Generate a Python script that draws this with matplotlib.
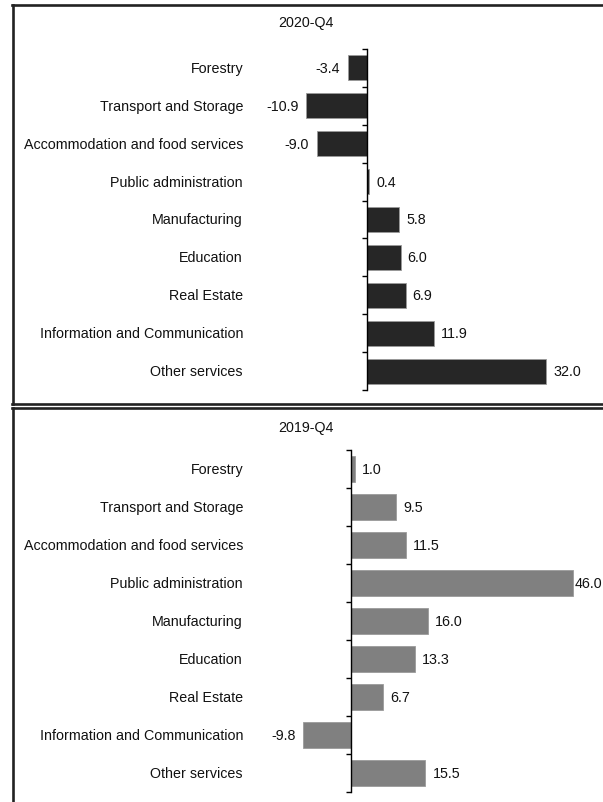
import matplotlib
matplotlib.use("Agg")
import matplotlib.pyplot as plt
from matplotlib.lines import Line2D
import matplotlib.transforms as mtransforms

plt.rcParams['font.family'] = ['Liberation Sans', 'DejaVu Sans']

categories = ["Forestry", "Transport and Storage", "Accommodation and food services",
              "Public administration", "Manufacturing", "Education", "Real Estate",
              "Information and Communication", "Other services"]
values_2020 = [-3.4, -10.9, -9.0, 0.4, 5.8, 6.0, 6.9, 11.9, 32.0]
values_2019 = [1.0, 9.5, 11.5, 46.0, 16.0, 13.3, 6.7, -9.8, 15.5]

W, H = 603, 803
fig = plt.figure(figsize=(W / 100, H / 100), dpi=100)


def px_axes(left, top, right, bottom):
    return fig.add_axes([left / W, (H - bottom) / H, (right - left) / W, (bottom - top) / H])


def panel(ax, vals, color, xlim):
    y = list(range(len(categories)))
    ax.barh(y, vals, height=0.66, color=color, edgecolor="#9a9a9a", linewidth=0.6, zorder=2)
    ax.set_ylim(len(categories) - 0.5, -0.5)
    ax.set_xlim(*xlim)
    for s in ["top", "right", "bottom"]:
        ax.spines[s].set_visible(False)
    ax.spines["left"].set_position(("data", 0))
    ax.spines["left"].set_linewidth(1.0)
    ax.spines["left"].set_zorder(3)
    ax.set_xticks([])
    ax.set_yticks([i - 0.5 for i in range(len(categories) + 1)])
    ax.set_yticklabels([])
    ax.tick_params(axis="y", direction="out", length=3.5, width=1.0)
    trans = mtransforms.blended_transform_factory(ax.transAxes, ax.transData)
    for i, c in enumerate(categories):
        ax.text(-5 / 352, i, c, transform=trans, ha="right", va="center", fontsize=10.3, color="#111")
    for i, v in enumerate(vals):
        if v >= 0:
            # label squeezed against the bar when it would run off the page
            pad = 1 if v > 0.85 * xlim[1] else 5
            ax.annotate("%.1f" % v, (v, i), xytext=(pad, 0), textcoords="offset points",
                        ha="left", va="center", fontsize=10.3, color="#111")
        else:
            ax.annotate("%.1f" % v, (v, i), xytext=(-5.5, 0), textcoords="offset points",
                        ha="right", va="center", fontsize=10.3, color="#111")


ax1 = px_axes(248, 50, 600, 391)
panel(ax1, values_2020, "#262626", (-21.25, 41.6))
ax2 = px_axes(248, 451, 600, 793)
panel(ax2, values_2019, "#808080", (-21.2, 51.6))

fig.text(306 / W, 1 - 23 / H, "2020-Q4", ha="center", va="center", fontsize=10.3, color="#111")
fig.text(306 / W, 1 - 428 / H, "2019-Q4", ha="center", va="center", fontsize=10.3, color="#111")

# panel frames
frame = dict(color="#222222", linewidth=1.9, transform=fig.transFigure)
def fx(x):
    return x / W
def fy(y):
    return 1 - y / H
fig.add_artist(Line2D([fx(12), fx(610)], [fy(6), fy(6)], **frame))
fig.add_artist(Line2D([fx(12), fx(610)], [fy(404.5), fy(404.5)], **frame))
fig.add_artist(Line2D([fx(12.5), fx(12.5)], [fy(6), fy(404.5)], **frame))
fig.add_artist(Line2D([fx(12), fx(610)], [fy(408.5), fy(408.5)], **frame))
fig.add_artist(Line2D([fx(12.5), fx(12.5)], [fy(408.5), fy(810)], **frame))

fig.savefig("out.png", dpi=100)
